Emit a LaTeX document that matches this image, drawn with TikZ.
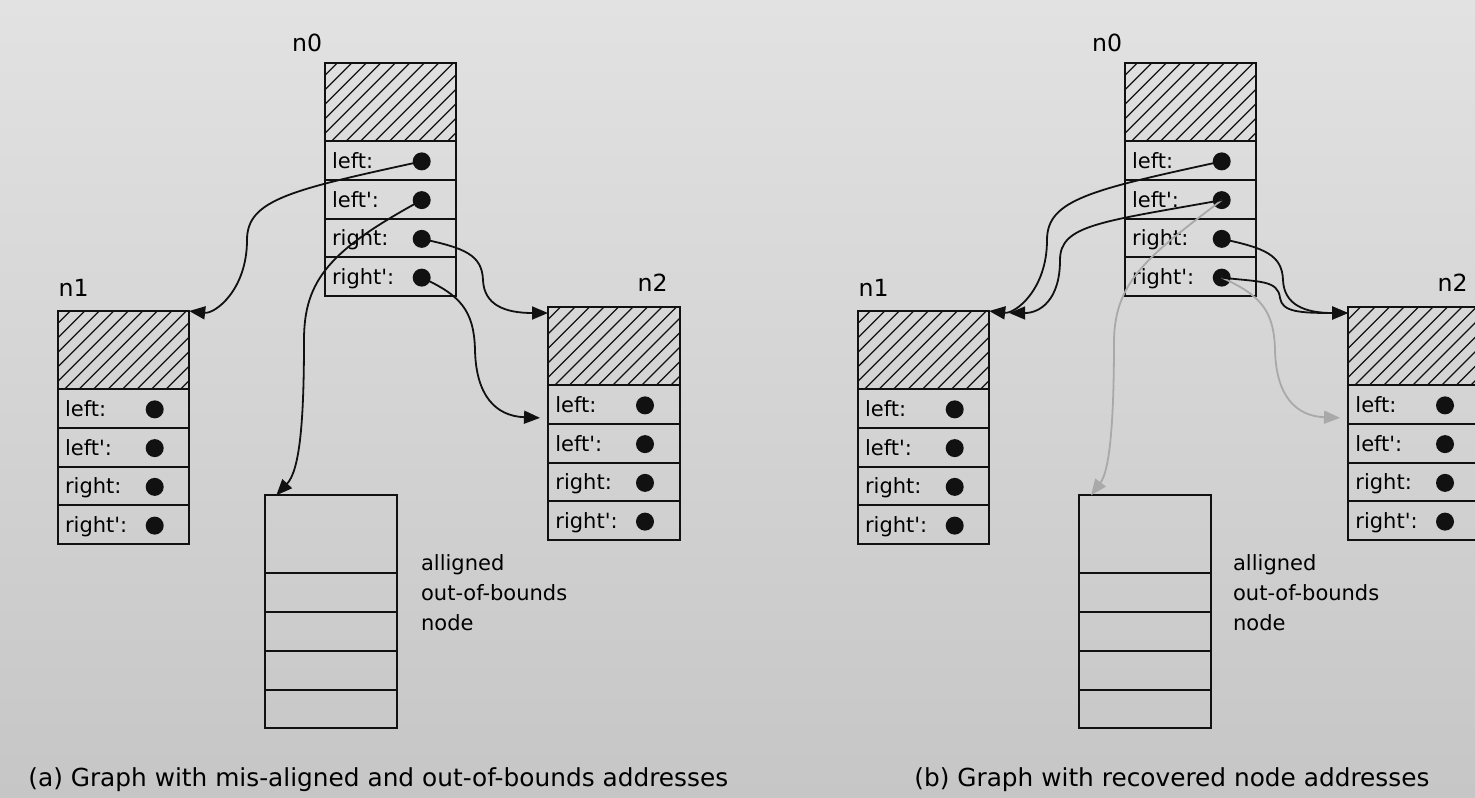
\documentclass[tikz,border=0pt]{standalone}
\usepackage{fontspec}
\setmainfont{DejaVu Sans}
\usetikzlibrary{arrows.meta}

\definecolor{bgtop}{HTML}{E2E2E2}
\definecolor{bgbot}{HTML}{C6C6C6}
\definecolor{ink}{HTML}{111111}
\definecolor{ghost}{HTML}{A9A9A9}

\newcommand\rowfont{\fontsize{10.5}{12}\selectfont}
\newcommand\tagfont{\fontsize{11.8}{14}\selectfont}
\newcommand\capfont{\fontsize{12.4}{15}\selectfont}

\tikzset{
  cell/.style={draw=ink, line width=1pt, minimum width=65.75pt,
    inner sep=0pt, outer sep=0pt, anchor=north west},
  hdr/.style={cell, minimum height=39pt},
  fld/.style={cell, minimum height=19.375pt},
  hatched/.style={path picture={
      \foreach \k in {0,...,15}
        \draw[ink, line width=0.65pt]
          ([xshift=\k*7.25pt-40pt]path picture bounding box.south west)
          -- ++(60pt,60pt);}},
  fname/.style={font=\rowfont, anchor=base west, inner sep=0pt},
  ptr/.style={circle, fill=ink, minimum size=9pt, inner sep=0pt},
  tag/.style={font=\tagfont, inner sep=0pt},
  note/.style={font=\rowfont, anchor=base west, inner sep=0pt},
  caption/.style={font=\capfont, anchor=base west, inner sep=0pt},
  link/.style={draw=ink, line width=0.9pt, -{Triangle[length=8pt,width=6.5pt]}},
  stale/.style={link, draw=ghost},
}

% a heap node: hatched header and four pointer fields
\newcommand\heaprec[3]{%
  \node[hdr,hatched] (#1h) at (#2,#3) {};
  \node[fld] (#1r1) at (#1h.south west) {};
  \node[fld] (#1r2) at (#1r1.south west) {};
  \node[fld] (#1r3) at (#1r2.south west) {};
  \node[fld] (#1r4) at (#1r3.south west) {};
  \foreach \i/\f in {1/left:,2/left\textquotesingle:,3/right:,4/right\textquotesingle:}{
    \node[fname] at ([xshift=3.5pt,yshift=-4pt]#1r\i.west) {\f};
    \node[ptr] (#1d\i) at ([xshift=48.5pt,yshift=-0.5pt]#1r\i.west) {};
  }%
}
% an empty block of the same size
\newcommand\blankrec[3]{%
  \node[hdr] (#1h) at (#2,#3) {};
  \node[fld] (#1r1) at (#1h.south west) {};
  \node[fld] (#1r2) at (#1r1.south west) {};
  \node[fld] (#1r3) at (#1r2.south west) {};
  \node[fld] (#1r4) at (#1r3.south west) {};
}

\begin{document}
\begin{tikzpicture}[x=0.5pt,y=-0.5pt]
  \useasboundingbox (0,0) rectangle (1475,797);
  \clip (0,0) rectangle (1475,797);
  \shade[top color=bgtop, bottom color=bgbot] (0,0) rectangle (1475,797);

  % ---------- (a) ----------
  \heaprec{a0}{324.7}{63}
  \heaprec{a1}{57.7}{311}
  \heaprec{a2}{548}{307}
  \blankrec{ax}{265.3}{495.3}

  \node[tag, anchor=base west] (a0t) at (291.7,52) {n0};
  \node[tag, anchor=base west] (a1t) at (58.3,296) {n1};
  \node[tag, anchor=base east] (a2t) at (668,291) {n2};
  \node[note] (axt1) at (420.7,570) {alligned};
  \node[note] (axt2) at (420.7,600) {out-of-bounds};
  \node[note] (axt3) at (420.7,630) {node};
  \node[caption] (capa) at (28,786.5) {(a) Graph with mis-aligned and out-of-bounds addresses};

  \coordinate (a1in) at (a1h.north east);
  \coordinate (a2in) at ([yshift=-3pt]a2h.north west);
  \coordinate (a2fld) at ([xshift=-4pt,yshift=-6.75pt]a2r1.west);
  \coordinate (axin) at ([xshift=5.5pt]axh.north west);

  \draw[link] (a0d1.center) .. controls (290,190) and (247,200) .. (247,240)
                            .. controls (247,290) and (215,314) .. (a1in);
  \draw[link] (a0d2.center) .. controls (330,250) and (304,280) .. (304,340)
                            .. controls (304,420) and (300,470) .. (axin);
  \draw[link] (a0d3.center) .. controls (465,248) and (482,255) .. (483,280)
                            .. controls (484,305) and (505,313) .. (a2in);
  \draw[link] (a0d4.center) .. controls (460,295) and (474,310) .. (475,350)
                            .. controls (476,395) and (495,416) .. (a2fld);

  % ---------- (b) ----------
  \heaprec{b0}{1124.7}{63}
  \heaprec{b1}{857.7}{311}
  \heaprec{b2}{1348}{307}
  \blankrec{bx}{1079}{495.3}

  \node[tag, anchor=base west] (b0t) at (1091.7,52) {n0};
  \node[tag, anchor=base west] (b1t) at (858.3,296) {n1};
  \node[tag, anchor=base east] (b2t) at (1468,291) {n2};
  \node[note] (bxt1) at (1232.7,570) {alligned};
  \node[note] (bxt2) at (1232.7,600) {out-of-bounds};
  \node[note] (bxt3) at (1232.7,630) {node};
  \node[caption] (capb) at (914,786.5) {(b) Graph with recovered node addresses};

  \coordinate (b1in) at (b1h.north east);
  \coordinate (b1in2) at ([xshift=10pt,yshift=-1pt]b1h.north east);
  \coordinate (b2in) at ([yshift=-3pt]b2h.north west);
  \coordinate (b2fld) at ([xshift=-4pt,yshift=-6.75pt]b2r1.west);
  \coordinate (bxin) at ([xshift=6pt]bxh.north west);

  \draw[stale] (b0d2.center) .. controls (1150,255) and (1115,280) .. (1114,340)
                             .. controls (1114,420) and (1110,470) .. (bxin);
  \begin{scope}[xshift=400pt]
    \draw[stale] (b0d4.center) .. controls (460,295) and (474,310) .. (475,350)
                               .. controls (476,395) and (495,416) .. (b2fld);
    \draw[link] (b0d1.center) .. controls (290,190) and (247,200) .. (247,240)
                              .. controls (247,290) and (215,314) .. (b1in);
    \draw[link] (b0d3.center) .. controls (465,248) and (482,255) .. (483,280)
                              .. controls (484,305) and (505,313) .. (b2in);
  \end{scope}
  \draw[link] (b0d2.center) .. controls (1100,222) and (1060,225) .. (1060,260)
                            .. controls (1060,300) and (1040,313) .. (b1in2);
  \draw[link] (b0d4.center) .. controls (1260,282) and (1278,280) .. (1280,298)
                            .. controls (1282,312) and (1300,313) .. (b2in);
\end{tikzpicture}
\end{document}
